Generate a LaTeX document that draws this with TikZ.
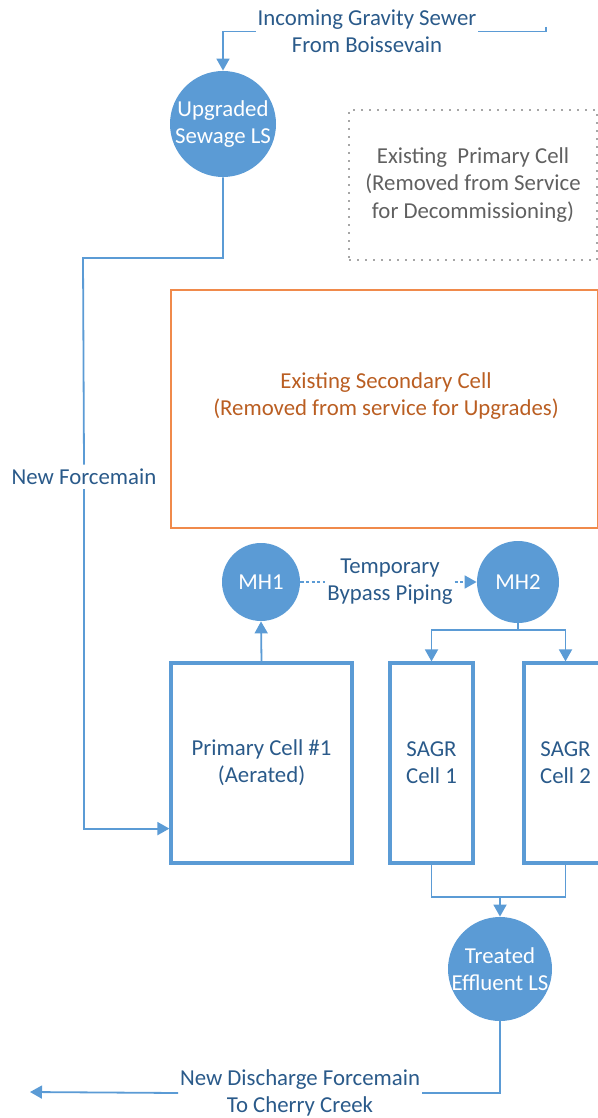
\documentclass[tikz,border=0pt]{standalone}
\usepackage{fontspec}
\setmainfont{Carlito}
\usetikzlibrary{arrows.meta,positioning}

\definecolor{pipe}{HTML}{5B9BD5}
\definecolor{pipetext}{HTML}{2A5A8A}
\definecolor{oldtext}{HTML}{606060}
\definecolor{olddots}{HTML}{A6A6A6}
\definecolor{secedge}{HTML}{F08A4B}
\definecolor{sectext}{HTML}{BA5E22}

\newcommand{\stline}[1]{\makebox[0pt]{#1}}

\tikzset{
  station/.style={circle, fill=pipe, text=white, align=center, inner sep=0pt},
  cell/.style={draw=pipe, line width=1.6pt, text=pipetext, align=center},
  pipelabel/.style={fill=white, text=pipetext, align=center, inner xsep=0.8pt, inner ysep=2pt},
  pipeline/.style={draw=pipe, line width=0.9pt},
  flow/.style={pipeline, -{Triangle[length=6pt,width=6.5pt]}},
  bypassline/.style={flow, dash pattern=on 1.6pt off 1.2pt},
}

\begin{document}
\begin{tikzpicture}[x=0.5pt, y=-0.5pt, font=\fontsize{11.4}{13.6}\selectfont]
\useasboundingbox (0,0) rectangle (598,1118);

% cells out of service
\node[draw=olddots, line width=1pt, dash pattern=on 1pt off 3pt, text=oldtext, align=center,
      minimum width=124pt, minimum height=75pt] (oldprimary) at (473,185)
      {Existing~ Primary Cell\\(Removed from Service\\for Decommissioning)};
\node[draw=secedge, line width=1pt, minimum width=213.5pt, minimum height=119pt] (secondary) at (384,408.5) {};
\node[text=sectext, align=center] (secondarytext) at ([xshift=1pt,yshift=6.2pt]secondary.center)
      {Existing Secondary Cell\\(Removed from service for Upgrades)};

% stations and manholes
\node[station, minimum size=53pt] (upgraded) at (223,124) {\stline{Upgraded}\\\stline{Sewage LS}};
\node[station, minimum size=39pt] (mhone) at (261,582) {MH1};
\node[station, minimum size=41pt] (mhtwo) at (518,582) {MH2};
\node[station, minimum size=52pt] (treated) at (500,969) {\stline{Treated}\\\stline{Effluent LS}};

% cells in service
\node[cell, minimum width=90.5pt, minimum height=100pt] (primary) at (261.5,763) {Primary Cell \#1\\(Aerated)};
\node[cell, minimum width=41.5pt, minimum height=100pt] (sagrone) at (431.5,763) {SAGR\\Cell 1};
\node[cell, minimum width=41.5pt, minimum height=100pt] (sagrtwo) at (565.5,763) {SAGR\\Cell 2};

% pipe labels
\node[pipelabel] (gravity) at (367,31.5) {Incoming Gravity Sewer\\From Boissevain};
\node[pipelabel] (forcemain) at (84,477) {New Forcemain};
\node[pipelabel] (bypass) at (390,582) {Temporary\\Bypass Piping};
\node[pipelabel] (discharge) at (300,1093) {New Discharge Forcemain\\To Cherry Creek};

\coordinate (sewerin) at (546,27);
\coordinate (bend) at (83,258);
\coordinate (split) at (518,630);
\coordinate (join) at (500,897);
\coordinate (outlet) at (30,1092);

% connectors
\draw[pipeline] (sewerin) |- (gravity.east);
\draw[flow] (gravity.west) -| (upgraded.north);
\draw[pipeline] (upgraded.south) |- (bend) -- (forcemain.north);
\draw[flow] (forcemain.south) |- ([yshift=18pt]primary.south west);
\draw[flow] (primary.north) -- (mhone.south);
\draw[pipeline, dash pattern=on 1.6pt off 1.2pt] (mhone.east) -- (bypass.west);
\draw[bypassline] (bypass.east) -- (mhtwo.west);
\draw[pipeline] (mhtwo.south) -- (split);
\draw[flow] (split) -| (sagrone.north);
\draw[flow] (split) -| (sagrtwo.north);
\draw[pipeline] (sagrone.south) |- (join);
\draw[pipeline] (sagrtwo.south) |- (join);
\draw[flow] (join) -- (treated.north);
\draw[pipeline] (treated.south) |- (discharge.east);
\draw[flow] (discharge.west) -- (outlet);
\end{tikzpicture}
\end{document}
